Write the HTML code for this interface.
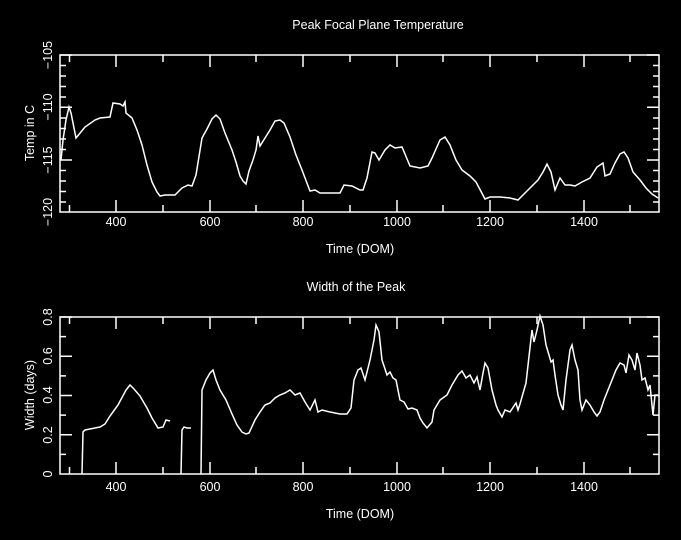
<!DOCTYPE html>
<html><head><style>
body{margin:0;background:#000;}
svg{display:block;}
text{font-family:"Liberation Sans",sans-serif;fill:#fff;font-size:12.5px;}
</style></head><body>
<svg width="681" height="540" xmlns="http://www.w3.org/2000/svg">
<g stroke="#fff" stroke-width="1.5" fill="none">
<rect x="60" y="55" width="599" height="157"/>
<rect x="60" y="317" width="599" height="157"/>
<path d="M69.5 212v-7M116 212v-12M163 212v-7M210 212v-12M256 212v-7M303 212v-12M350 212v-7M397 212v-12M443 212v-7M490 212v-12M537 212v-7M584 212v-12M630 212v-7
M69.5 55v7M116 55v12M163 55v7M210 55v12M256 55v7M303 55v12M350 55v7M397 55v12M443 55v7M490 55v12M537 55v7M584 55v12M630 55v7
M60 55h12M60 65.5h6M60 76h6M60 86.5h6M60 97h6M60 107.3h12M60 118h6M60 128.5h6M60 139h6M60 149.5h6M60 160h12M60 170.5h6M60 181h6M60 191.5h6M60 202h6
M659 55h-12M659 65.5h-6M659 76h-6M659 86.5h-6M659 97h-6M659 107.3h-12M659 118h-6M659 128.5h-6M659 139h-6M659 149.5h-6M659 160h-12M659 170.5h-6M659 181h-6M659 191.5h-6M659 202h-6"/>
<path d="M69.5 474v-7M116 474v-12M163 474v-7M210 474v-12M256 474v-7M303 474v-12M350 474v-7M397 474v-12M443 474v-7M490 474v-12M537 474v-7M584 474v-12M630 474v-7
M69.5 317v7M116 317v12M163 317v7M210 317v12M256 317v7M303 317v12M350 317v7M397 317v12M443 317v7M490 317v12M537 317v7M584 317v12M630 317v7
M60 317h12M60 336.6h6M60 356.2h12M60 375.9h6M60 395.5h12M60 415.1h6M60 434.7h12M60 454.4h6
M659 317h-12M659 336.6h-6M659 356.2h-12M659 375.9h-6M659 395.5h-12M659 415.1h-6M659 434.7h-12M659 454.4h-6"/>
<polyline points="61,160 63,140 66,120 69,107 71,113 76,138 85,127 95,120 100,118 110,117 113,103 120,104 123,106 125,102 126,113 132,118 137,130 142,145 147,165 152,182 157,192 160,196 165,195 175,195 182,188 188,185 192,186 196,175 202,138 207,129 212,119 216,115 220,119 225,133 232,150 236,162 240,176 243,181 246,184 249,171 253,160 256,150 258,136 260,146 265,138 270,130 275,121 280,120 284,123 290,137 296,155 302,170 310,191 315,190 320,193 330,193 340,193 344,185 352,186 360,190 363,190 367,178 372,152 375,153 379,160 385,150 390,145 395,148 402,147 410,166 420,168 428,166 432,158 440,140 445,137 450,145 456,160 462,170 470,176 476,182 485,199 490,197 500,197 510,198 518,200 523,195 530,188 538,180 543,172 547,164 551,172 555,190 560,178 565,185 570,185 575,186 582,182 590,178 597,167 603,163 605,176 610,174 615,163 620,154 624,152 628,158 633,172 640,180 646,188 652,194 658,198"/>
<polyline points="82,474 83,432 85,430 95,428 100,427 105,424 110,416 118,405 126,390 130,385 134,389 140,396 147,408 152,418 158,428 163,427 166,420 170,421"/>
<polyline points="181,474 182,430 184,427 187,428 191,428"/>
<polyline points="201,474 202,390 206,380 210,373 213,370 216,380 220,390 226,400 232,414 237,425 242,432 246,434 249,433 255,420 260,412 265,405 270,403 275,398 280,395 285,393 290,390 295,395 300,393 305,402 310,410 315,400 318,412 322,410 330,412 340,414 347,414 351,408 354,380 358,370 361,368 365,380 370,360 374,340 376,325 379,332 382,360 387,375 390,372 393,378 396,380 400,400 404,402 408,409 412,408 417,410 420,418 423,423 427,428 432,422 434,410 440,400 447,395 452,385 458,375 462,371 466,378 470,375 474,383 477,377 480,390 483,373 485,363 488,368 492,390 496,405 498,410 502,417 505,410 510,412 516,403 518,410 520,404 526,383 532,330 534,342 537,330 540,316 543,325 546,345 549,355 551,362 553,360 555,375 558,395 561,405 563,410 566,380 570,350 572,345 575,360 578,370 580,400 582,410 586,400 590,405 594,412 597,416 600,412 604,400 608,390 612,380 616,370 620,363 624,365 626,373 629,355 632,360 635,370 637,353 640,365 642,380 645,378 648,390 650,385 653,415 655,395 658,395"/>
</g>
<text x="378" y="29" text-anchor="middle">Peak Focal Plane Temperature</text>
<text x="356" y="291" text-anchor="middle">Width of the Peak</text>
<g text-anchor="middle">
<text x="116" y="226">400</text><text x="210" y="226">600</text><text x="303" y="226">800</text><text x="397" y="226">1000</text><text x="490" y="226">1200</text><text x="584" y="226">1400</text>
<text x="360" y="253">Time (DOM)</text>
<text x="116" y="491">400</text><text x="210" y="491">600</text><text x="303" y="491">800</text><text x="397" y="491">1000</text><text x="490" y="491">1200</text><text x="584" y="491">1400</text>
<text x="360" y="518">Time (DOM)</text>
</g>
<g text-anchor="middle">
<text transform="translate(52,55) rotate(-90)">−105</text>
<text transform="translate(52,107) rotate(-90)">−110</text>
<text transform="translate(52,160) rotate(-90)">−115</text>
<text transform="translate(52,212) rotate(-90)">−120</text>
<text transform="translate(34,133) rotate(-90)">Temp in C</text>
<text transform="translate(52,317) rotate(-90)">0.8</text>
<text transform="translate(52,356) rotate(-90)">0.6</text>
<text transform="translate(52,395) rotate(-90)">0.4</text>
<text transform="translate(52,435) rotate(-90)">0.2</text>
<text transform="translate(52,474) rotate(-90)">0</text>
<text transform="translate(34,395) rotate(-90)">Width (days)</text>
</g>
</svg>
</body></html>
